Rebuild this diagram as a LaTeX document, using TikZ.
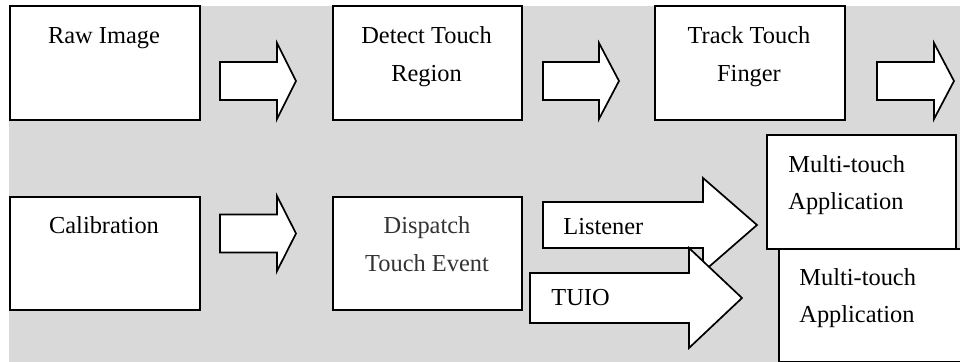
\documentclass[tikz,border=0pt]{standalone}
\usepackage{fontspec}
\setmainfont{Liberation Serif}
\definecolor{bggray}{RGB}{217,217,217}
\definecolor{darktext}{RGB}{51,51,51}
\newcommand\blockarrow[7]{%
  \draw[arrowshape] (#2,{#5-#6}) coordinate (#1) -- (#3,{#5-#6}) -- (#3,{#5-#7}) -- (#4,#5) -- (#3,{#5+#7}) -- (#3,{#5+#6}) -- (#2,{#5+#6}) -- cycle;}
\begin{document}
\begin{tikzpicture}[x=0.5pt,y=-0.5pt,
  boxshape/.style={draw=black,line width=1.1pt,fill=white,inner sep=0pt,anchor=north west},
  arrowshape/.style={draw=black,line width=0.85pt,fill=white,line join=miter},
  lbl/.style={inner sep=0pt,font=\fontsize{12.2}{14}\selectfont},
  lblc/.style={lbl,anchor=base},
  lbll/.style={lbl,anchor=base west}]
\useasboundingbox (0,0) rectangle (960,362);
\fill[bggray] (9,6) rectangle (960,362);
% top row
\node[boxshape,minimum width=95pt,minimum height=57pt] (raw) at (9,5) {};
\node[boxshape,minimum width=94.5pt,minimum height=57pt] (detect) at (332,5) {};
\node[boxshape,minimum width=95pt,minimum height=57pt] (track) at (654,5) {};
\node[lblc] (tRaw) at (104,44) {Raw Image};
\node[lblc] (tDet1) at (426.5,44) {Detect Touch};
\node[lblc] (tDet2) at (426.5,82) {Region};
\node[lblc] (tTr1) at (749,44) {Track Touch};
\node[lblc] (tTr2) at (749,82) {Finger};
\blockarrow{a1}{220}{277}{296}{81}{19}{38}
\blockarrow{a2}{543}{599}{619}{81}{19}{38}
\blockarrow{a3}{877}{934}{954}{81}{19}{38}
% bottom row
\node[boxshape,minimum width=95pt,minimum height=56.5pt] (cal) at (9,196) {};
\node[boxshape,minimum width=94.5pt,minimum height=56.5pt] (disp) at (332,196) {};
\node[lblc] (tCal) at (104,234) {Calibration};
\node[lblc,text=darktext] (tDis1) at (427,234) {Dispatch};
\node[lblc,text=darktext] (tDis2) at (427,272) {Touch Event};
\blockarrow{a4}{220}{277}{296}{233.5}{19}{37.5}
\blockarrow{a5}{543}{703}{757}{225}{23}{47}
\blockarrow{a6}{530}{689}{742}{298}{25}{50}
\node[lbll] (tLis) at (563,235) {Listener};
\node[lbll] (tTuio) at (551,306) {TUIO};
% applications
\node[boxshape,minimum width=94.5pt,minimum height=57pt] (app1) at (766,134) {};
\node[lbll] (tApp1a) at (788,173) {Multi-touch};
\node[lbll] (tApp1b) at (788,210) {Application};
\node[boxshape,minimum width=100pt,minimum height=56.5pt] (app2) at (778,248) {};
\node[lbll] (tApp2a) at (799,286) {Multi-touch};
\node[lbll] (tApp2b) at (799,323) {Application};
\end{tikzpicture}
\end{document}
